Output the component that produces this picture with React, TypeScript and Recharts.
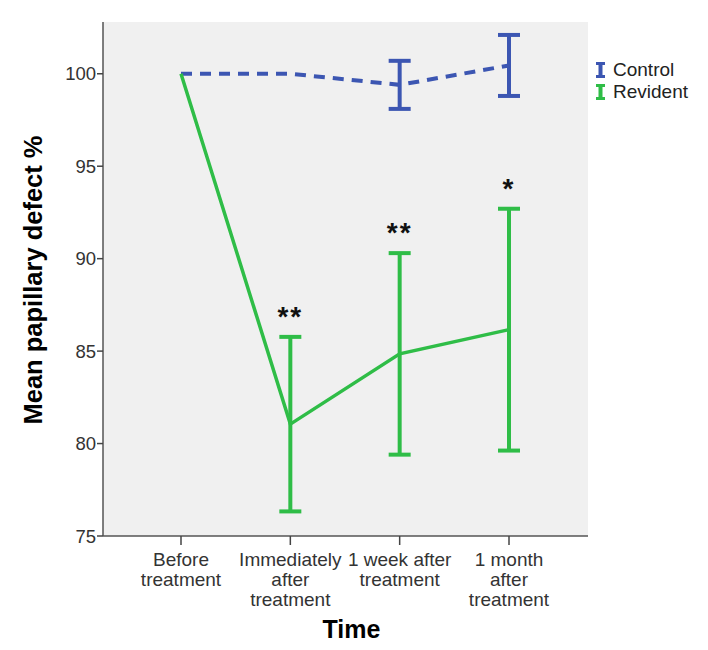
import {
  LineChart,
  Line,
  XAxis,
  YAxis,
  CartesianGrid,
  ErrorBar,
  LabelList,
} from "recharts";

const times = [
  "Before\ntreatment",
  "Immediately\nafter\ntreatment",
  "1 week after\ntreatment",
  "1 month\nafter\ntreatment",
];
const controlMean = [100, 100, 99.4, 100.45];
const controlErr = [0, 0, 1.3, 1.65];
const revidentMean = [100, 81.05, 84.85, 86.16];
const revidentErr = [0, 4.72, 5.45, 6.54];
const significance = ["", "**", "**", "*"];
const yTicks = [75, 80, 85, 90, 95, 100];

const data = times.map((time, i) => ({
  time,
  control: controlMean[i],
  controlErr: controlErr[i],
  revident: revidentMean[i],
  revidentErr: revidentErr[i],
  revidentTop: revidentMean[i] + revidentErr[i],
  sig: significance[i],
}));

const BLUE = "#3C56B2";
const GREEN = "#2FBD47";
const FONT = "'Liberation Sans', Arial, sans-serif";

function TimeTick(props: any) {
  const { x, y, payload } = props;
  const lines = String(payload.value).split("\n");
  return (
    <text x={x} y={y} textAnchor="middle" fill="#333" fontSize={19} fontFamily={FONT}>
      {lines.map((l, i) => (
        <tspan key={i} x={x} dy={i === 0 ? 19 : 20}>
          {l}
        </tspan>
      ))}
    </text>
  );
}

function ErrIcon({ color }: { color: string }) {
  return (
    <svg width={9} height={16} style={{ marginRight: 8 }}>
      <rect x={0} y={0} width={9} height={3} fill={color} />
      <rect x={2.5} y={1} width={4} height={14} fill={color} />
      <rect x={0} y={13} width={9} height={3} fill={color} />
    </svg>
  );
}

function LegendBox() {
  const items = [
    { name: "Control", color: BLUE },
    { name: "Revident", color: GREEN },
  ];
  return (
    <div
      style={{
        position: "absolute",
        left: 596,
        top: 59,
        fontFamily: FONT,
        fontSize: 19,
        color: "#222",
      }}
    >
      {items.map((it) => (
        <div key={it.name} style={{ display: "flex", alignItems: "center", height: 22 }}>
          <ErrIcon color={it.color} />
          <span>{it.name}</span>
        </div>
      ))}
    </div>
  );
}

export default function App() {
  return (
    <div style={{ position: "absolute", left: 0, top: 0, width: 708, height: 650, background: "#fff" }}>
      <LineChart
        width={708}
        height={650}
        data={data}
        margin={{ top: 22, right: 120, bottom: 0, left: 0 }}
      >
        <CartesianGrid horizontal={false} vertical={false} fill="#F0F0F0" fillOpacity={1} />
        <XAxis
          dataKey="time"
          height={114}
          padding={{ left: 78, right: 79 }}
          tick={<TimeTick />}
          tickSize={9}
          tickLine={{ stroke: "#444", strokeWidth: 1.5 }}
          axisLine={{ stroke: "#555", strokeWidth: 1.5 }}
          interval={0}
          label={{
            content: (p: any) => {
              const vb = p.viewBox;
              return (
                <text
                  x={vb.x + vb.width / 2 + 6}
                  y={638}
                  textAnchor="middle"
                  fontSize={25}
                  fontWeight="bold"
                  fontFamily={FONT}
                  fill="#000"
                >
                  Time
                </text>
              );
            },
          }}
        />
        <XAxis
          xAxisId="top"
          dataKey="time"
          orientation="top"
          height={0}
          tick={false}
          tickLine={false}
          axisLine={{ stroke: "#555", strokeWidth: 1.5 }}
        />
        <YAxis
          width={103}
          domain={[75, 102.8]}
          ticks={yTicks}
          allowDataOverflow
          tickSize={6}
          tickMargin={1}
          tick={{ fill: "#333", fontSize: 18.5, fontFamily: FONT }}
          tickLine={{ stroke: "#444", strokeWidth: 1.5 }}
          axisLine={{ stroke: "#555", strokeWidth: 1.5 }}
          label={{
            content: (p: any) => {
              const vb = p.viewBox;
              const cx = 42;
              const cy = vb.y + vb.height / 2 + 1;
              return (
                <text
                  x={cx}
                  y={cy}
                  transform={`rotate(-90 ${cx} ${cy})`}
                  textAnchor="middle"
                  fontSize={25.5}
                  fontWeight="bold"
                  fontFamily={FONT}
                  fill="#000"
                >
                  Mean papillary defect %
                </text>
              );
            },
          }}
        />
        <YAxis
          yAxisId="right"
          orientation="right"
          width={0}
          domain={[75, 102.8]}
          allowDataOverflow
          tick={false}
          tickLine={false}
          axisLine={{ stroke: "#555", strokeWidth: 1.5 }}
        />
        <Line
          dataKey="control"
          stroke={BLUE}
          strokeWidth={4}
          strokeDasharray="11 8"
          dot={false}
          activeDot={false}
          isAnimationActive={false}
        >
          <ErrorBar dataKey="controlErr" width={11} stroke={BLUE} strokeWidth={4} direction="y" isAnimationActive={false} />
        </Line>
        <Line
          dataKey="revident"
          stroke={GREEN}
          strokeWidth={3.5}
          dot={false}
          activeDot={false}
          isAnimationActive={false}
        >
          <ErrorBar dataKey="revidentErr" width={11} stroke={GREEN} strokeWidth={4} direction="y" isAnimationActive={false} />
        </Line>
        <Line
          dataKey="revidentTop"
          stroke="none"
          dot={false}
          activeDot={false}
          legendType="none"
          isAnimationActive={false}
        >
          <LabelList
            dataKey="sig"
            position="top"
            offset={11}
            fontSize={28}
            fontWeight="bold"
            letterSpacing={2}
            fontFamily={FONT}
            fill="#111"
          />
        </Line>
      </LineChart>
      <LegendBox />
    </div>
  );
}
